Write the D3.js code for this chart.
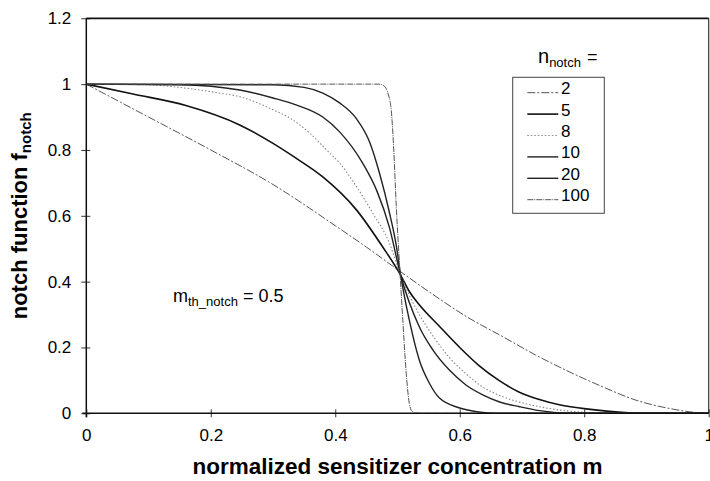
<!DOCTYPE html>
<html>
<head>
<meta charset="utf-8">
<script src="https://cdn.jsdelivr.net/npm/d3@7"></script>
<style>
  body { margin: 0; background: #fff; }
  svg { display: block; font-family: Arial, "Liberation Sans", sans-serif; }
</style>
</head>
<body>
<div id="chart"></div>
<script>
// chart size and plot box
const width = 710;
const height = 481;
const plot = {left: 86.3, right: 708.7, top: 18.3, bottom: 413.3};

// tick values
const xTicks = [0, 0.2, 0.4, 0.6, 0.8, 1];
const yTicks = [0, 0.2, 0.4, 0.6, 0.8, 1, 1.2];

// n_notch values (legend order)
const nValues = ["2", "5", "8", "10", "20", "100"];

// curves: [m, f_notch]
const curveN2 = [[0, 1], [0.1, 0.9], [0.2, 0.8], [0.3, 0.695], [0.4, 0.57], [0.45, 0.505],
  [0.505, 0.43], [0.55, 0.37], [0.615, 0.289], [0.669, 0.233], [0.722, 0.177], [0.776, 0.126],
  [0.829, 0.081], [0.883, 0.04], [0.936, 0.015], [0.972, 0.004], [1, 0]];
const curveN5 = [[0, 1], [0.075, 0.97], [0.16, 0.935], [0.2465, 0.876], [0.3, 0.82], [0.337, 0.775],
  [0.38, 0.718], [0.434, 0.618], [0.476, 0.506], [0.505, 0.42], [0.519, 0.37], [0.535, 0.33],
  [0.567, 0.265], [0.6, 0.2], [0.631, 0.145], [0.663, 0.1], [0.695, 0.065], [0.728, 0.042],
  [0.76, 0.026], [0.81, 0.012], [0.86, 0.003], [0.9, 0], [1, 0]];
const curveN8 = [[0, 1], [0.1, 0.998], [0.15, 0.99], [0.213, 0.973], [0.2465, 0.962], [0.3, 0.922],
  [0.327, 0.897], [0.359, 0.851], [0.386, 0.8], [0.407, 0.76], [0.434, 0.689], [0.46, 0.609],
  [0.487, 0.517], [0.505, 0.42], [0.535, 0.3], [0.557, 0.235], [0.583, 0.17], [0.61, 0.12],
  [0.637, 0.08], [0.663, 0.055], [0.696, 0.034], [0.728, 0.02], [0.76, 0.01], [0.8, 0.003],
  [0.84, 0], [1, 0]];
const curveN10 = [[0, 1], [0.15, 0.998], [0.2465, 0.982], [0.3, 0.958], [0.337, 0.937], [0.38, 0.9],
  [0.407, 0.855], [0.444, 0.76], [0.467, 0.675], [0.487, 0.565], [0.505, 0.42], [0.535, 0.263],
  [0.557, 0.192], [0.583, 0.132], [0.61, 0.086], [0.637, 0.056], [0.663, 0.035], [0.696, 0.02],
  [0.728, 0.008], [0.78, 0], [1, 0]];
const curveN20 = [[0, 1], [0.3, 0.998], [0.35, 0.99], [0.38, 0.973], [0.407, 0.943], [0.434, 0.895],
  [0.455, 0.825], [0.471, 0.73], [0.487, 0.61], [0.498, 0.51], [0.505, 0.42], [0.519, 0.283],
  [0.535, 0.162], [0.551, 0.092], [0.567, 0.047], [0.6, 0.016], [0.63, 0.004], [0.66, 0], [1, 0]];
const curveN100 = [[0, 1], [0.47, 1], [0.478, 0.995], [0.485, 0.97], [0.49, 0.92], [0.494, 0.8],
  [0.498, 0.63], [0.503, 0.46], [0.508, 0.3], [0.514, 0.122], [0.519, 0.03], [0.524, 0.005],
  [0.535, 0], [1, 0]];

const curves = [curveN2, curveN5, curveN8, curveN10, curveN20, curveN100];

// line look per series
const styles = [
  {stroke: "#555", width: 1, dash: "8,2,2,2"},
  {stroke: "#111", width: 1.6, dash: null},
  {stroke: "#888", width: 1.1, dash: "1.5,2"},
  {stroke: "#222", width: 1.4, dash: null},
  {stroke: "#222", width: 1.4, dash: null},
  {stroke: "#555", width: 1, dash: "6,1,1,1"}
];

const svg = d3.select("#chart").append("svg")
  .attr("width", width)
  .attr("height", height);

const x = d3.scaleLinear().domain([0, 1]).range([plot.left, plot.right]);
const y = d3.scaleLinear().domain([0, 1.2]).range([plot.bottom, plot.top]);

// x axis
const xAxis = svg.append("g")
  .attr("transform", "translate(0," + plot.bottom + ")")
  .call(d3.axisBottom(x).tickValues(xTicks).tickFormat(d => String(d)).tickSize(4).tickPadding(11.5));
xAxis.select(".domain").remove();
xAxis.selectAll(".tick line").attr("y1", -4).attr("stroke", "#333");
xAxis.selectAll("text").style("font-size", "17px").attr("fill", "#000");

// y axis
const yAxis = svg.append("g")
  .attr("transform", "translate(" + plot.left + ",0)")
  .call(d3.axisLeft(y).tickValues(yTicks).tickFormat(d => String(d)).tickSize(5).tickPadding(10));
yAxis.select(".domain").remove();
yAxis.selectAll(".tick line").attr("x1", 4).attr("stroke", "#333");
yAxis.selectAll("text").style("font-size", "17px").attr("fill", "#000");

// frame
svg.append("line").attr("x1", plot.left).attr("x2", plot.right)
  .attr("y1", plot.top).attr("y2", plot.top).attr("stroke", "#111").attr("stroke-width", 1.8);
svg.append("line").attr("x1", plot.right).attr("x2", plot.right)
  .attr("y1", plot.top).attr("y2", plot.bottom).attr("stroke", "#333").attr("stroke-width", 1.2);

// curves
const line = d3.line()
  .x(d => x(d[0]))
  .y(d => y(d[1]))
  .curve(d3.curveMonotoneX);

curves.forEach((c, i) => {
  svg.append("path")
    .datum(c)
    .attr("d", line)
    .attr("fill", "none")
    .attr("stroke", styles[i].stroke)
    .attr("stroke-width", styles[i].width)
    .attr("stroke-dasharray", styles[i].dash);
});

// axis lines on top of the curve tails
svg.append("line").attr("x1", plot.left - 4).attr("x2", plot.right)
  .attr("y1", plot.bottom).attr("y2", plot.bottom).attr("stroke", "#111").attr("stroke-width", 1.5);
svg.append("line").attr("x1", plot.left).attr("x2", plot.left)
  .attr("y1", plot.top).attr("y2", plot.bottom + 4).attr("stroke", "#111").attr("stroke-width", 1.5);

// axis titles
svg.append("text")
  .attr("x", (plot.left + plot.right) / 2)
  .attr("y", 474)
  .attr("text-anchor", "middle")
  .style("font-size", "22.5px")
  .style("font-weight", "bold")
  .text("normalized sensitizer concentration m");

const yTitle = svg.append("text")
  .attr("transform", "translate(27," + ((plot.top + plot.bottom) / 2) + ") rotate(-90)")
  .attr("text-anchor", "middle")
  .style("font-size", "22px")
  .style("font-weight", "bold");
yTitle.append("tspan").text("notch function f");
yTitle.append("tspan").attr("dy", 4).style("font-size", "15px").text("notch");

// annotation
const note = svg.append("text")
  .attr("x", 173)
  .attr("y", 301.5)
  .style("font-size", "18px");
note.append("tspan").text("m");
note.append("tspan").attr("dy", 4).style("font-size", "13px").text("th_notch");
note.append("tspan").attr("dy", -4).text(" = 0.5");

// legend title
const legTitle = svg.append("text")
  .attr("x", 538)
  .attr("y", 63)
  .style("font-size", "20px");
legTitle.append("tspan").text("n");
legTitle.append("tspan").attr("dy", 3.5).style("font-size", "13px").text("notch");
legTitle.append("tspan").attr("dy", -3.5).attr("dx", 6).style("font-size", "18px").text("=");

// legend box
const legend = svg.append("g");
legend.append("rect")
  .attr("x", 512.7).attr("y", 77.3)
  .attr("width", 91.6).attr("height", 136)
  .attr("fill", "#fff")
  .attr("stroke", "#444")
  .attr("stroke-width", 1);

nValues.forEach((n, i) => {
  const ly = 92.7 + i * 21.4;
  legend.append("line")
    .attr("x1", 527.3).attr("x2", 558.3)
    .attr("y1", ly).attr("y2", ly)
    .attr("stroke", styles[i].stroke)
    .attr("stroke-width", styles[i].width)
    .attr("stroke-dasharray", styles[i].dash);
  legend.append("text")
    .attr("x", 561)
    .attr("y", ly + 1.5)
    .style("font-size", "17px")
    .text(n);
});
</script>
</body>
</html>
